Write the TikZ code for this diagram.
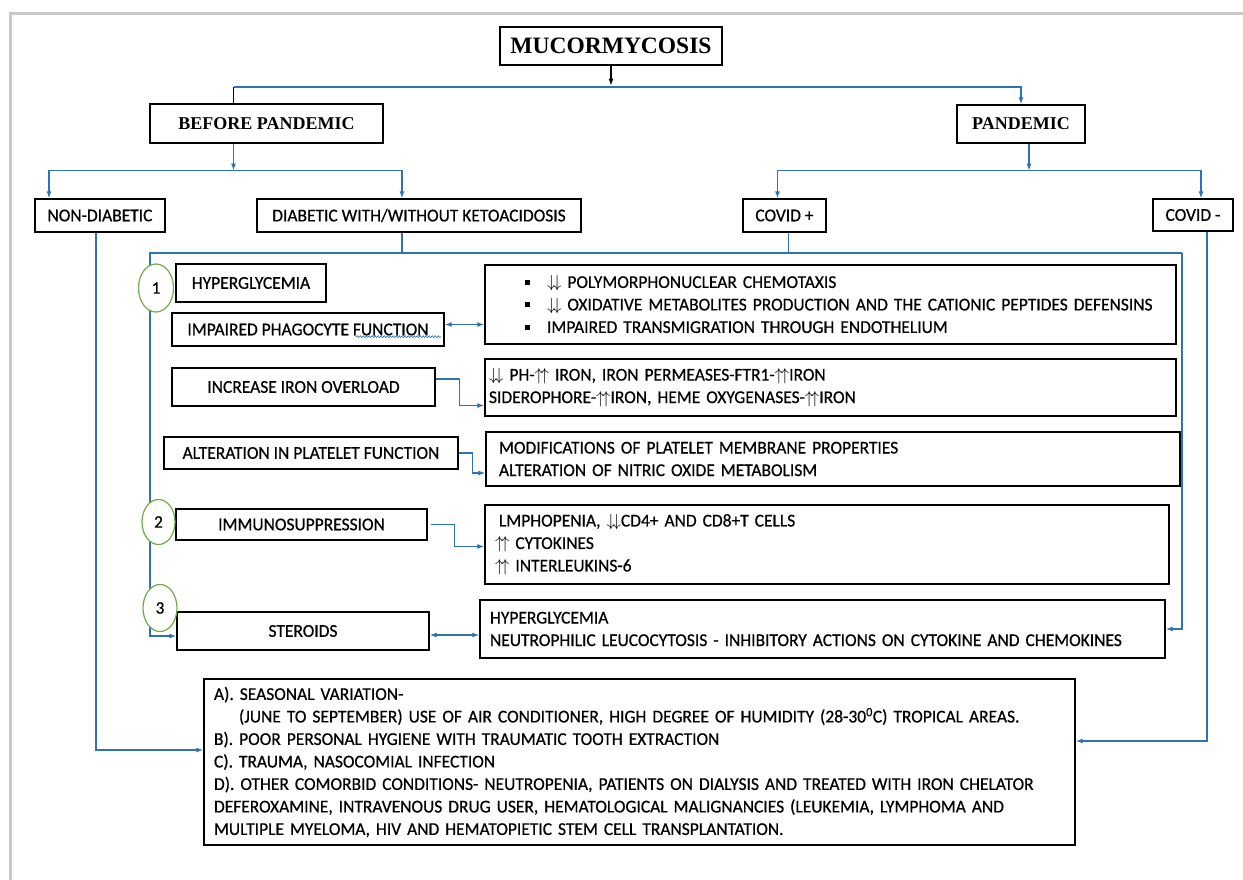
\documentclass[tikz,border=0pt]{standalone}
\usepackage{fontspec}
\setmainfont{Carlito}[FakeBold=0.6,FakeStretch=0.97]
\newfontfamily\titlefont{Liberation Serif}
\usetikzlibrary{shapes.geometric,arrows.meta,decorations.pathmorphing}
\definecolor{linkblue}{RGB}{46,116,181}
\definecolor{numgreen}{RGB}{112,173,71}
\definecolor{framegray}{RGB}{200,200,200}
\newcommand{\dndn}{$\downarrow\!\downarrow$}
\newcommand{\upup}{$\uparrow\!\uparrow$}
\newcommand{\sqbul}{\rule[3pt]{5pt}{5pt}}
\begin{document}
\begin{tikzpicture}[x=1pt,y=-1pt,
    box/.style={draw, line width=1.3pt, inner sep=0pt, font=\fontsize{18}{22.5}\selectfont},
    head/.style={box, font=\titlefont\bfseries\fontsize{18}{20}\selectfont},
    rbox/.style={box, align=left, inner xsep=10pt},
    num/.style={ellipse, draw=numgreen, fill=white, line width=1.2pt, inner sep=0pt, font=\fontsize{17.5}{20}\selectfont},
    wire/.style={draw=linkblue, line width=1.2pt},
    arr/.style={wire, -{Latex[length=7pt,width=5pt]}},
    dbl/.style={wire, {Latex[length=7pt,width=5pt]}-{Latex[length=7pt,width=5pt]}}]
  \useasboundingbox (0,0) rectangle (1243,880);
  \draw[framegray, line width=3pt] (10,880) -- (10,14) -- (1243,14);

  \node[head, minimum width=222pt, minimum height=38pt, font=\titlefont\bfseries\fontsize{23.5}{25}\selectfont] (mucor) at (611,46) {MUCORMYCOSIS};
  \node[head, minimum width=233pt, minimum height=39pt] (bp)  at (266.5,123.5) {BEFORE PANDEMIC};
  \node[head, minimum width=128pt, minimum height=38pt] (pan) at (1021,124) {PANDEMIC};

  \node[box, minimum width=130pt, minimum height=33pt] (nondia) at (100,215.5) {NON-DIABETIC};
  \node[box, minimum width=324pt, minimum height=33pt] (diab)   at (419,215.5) {DIABETIC WITH/WITHOUT KETOACIDOSIS};
  \node[box, minimum width=83pt,  minimum height=33pt] (covp)   at (784.5,215.5) {COVID +};
  \node[box, minimum width=80pt,  minimum height=32pt] (covm)   at (1193,215) {COVID -};

  \node[box, minimum width=150pt, minimum height=38pt] (hyper)  at (251,283) {HYPERGLYCEMIA};
  \node[box, minimum width=272pt, minimum height=33pt] (phago)  at (308,329.5) {IMPAIRED PHAGOCYTE FUNCTION};
  \node[box, minimum width=263pt, minimum height=38pt] (iron)   at (303.5,387) {INCREASE IRON OVERLOAD};
  \node[box, minimum width=294pt, minimum height=32pt] (plate)  at (311,453) {ALTERATION IN PLATELET FUNCTION};
  \node[box, minimum width=251pt, minimum height=31pt] (immuno) at (301.5,524.5) {IMMUNOSUPPRESSION};
  \node[box, minimum width=252pt, minimum height=38pt] (ster)   at (303,631) {STEROIDS};

  \node[rbox, text width=671pt, minimum height=79pt] (r1) at (830.5,304.5) {\hspace*{30pt}\sqbul\hspace{17pt}\dndn\ POLYMORPHONUCLEAR CHEMOTAXIS\\
    \hspace*{30pt}\sqbul\hspace{17pt}\dndn\ OXIDATIVE METABOLITES PRODUCTION AND THE CATIONIC PEPTIDES DEFENSINS\\
    \hspace*{30pt}\sqbul\hspace{17pt}IMPAIRED TRANSMIGRATION THROUGH ENDOTHELIUM};
  \node[rbox, inner xsep=4pt, text width=683pt, minimum height=57pt] (r2) at (830.5,387.5) {\dndn\ PH-\upup\ IRON, IRON PERMEASES-FTR1-\upup IRON\\
    SIDEROPHORE-\upup IRON, HEME OXYGENASES-\upup IRON};
  \node[rbox, inner xsep=13pt, text width=668pt, minimum height=54pt] (r3) at (833,459) {MODIFICATIONS OF PLATELET MEMBRANE PROPERTIES\\
    ALTERATION OF NITRIC OXIDE METABOLISM};
  \node[rbox, text width=664pt, minimum height=79pt] (r4) at (827,544.5) {\hspace*{4pt}LMPHOPENIA, \dndn CD4+ AND CD8+T CELLS\\
    \upup\ CYTOKINES\\
    \upup\ INTERLEUKINS-6};
  \node[rbox, text width=665pt, minimum height=58pt] (r5) at (822.5,629) {HYPERGLYCEMIA\\
    NEUTROPHILIC LEUCOCYTOSIS - INHIBITORY ACTIONS ON CYTOKINE AND CHEMOKINES};

  \node[rbox, text width=851pt, minimum height=166pt] (final) at (639.5,762) {A). SEASONAL VARIATION-\\
    \hspace*{25pt}(JUNE TO SEPTEMBER) USE OF AIR CONDITIONER, HIGH DEGREE OF HUMIDITY (28-30\textsuperscript{0}C) TROPICAL AREAS.\\
    B). POOR PERSONAL HYGIENE WITH TRAUMATIC TOOTH EXTRACTION\\
    C). TRAUMA, NASOCOMIAL INFECTION\\
    D). OTHER COMORBID CONDITIONS- NEUTROPENIA, PATIENTS ON DIALYSIS AND TREATED WITH IRON CHELATOR\\
    DEFEROXAMINE, INTRAVENOUS DRUG USER, HEMATOLOGICAL MALIGNANCIES (LEUKEMIA, LYMPHOMA AND\\
    MULTIPLE MYELOMA, HIV AND HEMATOPIETIC STEM CELL TRANSPLANTATION.};

  \coordinate (top) at (611,87);
  \coordinate (jl) at (150,253);
  \coordinate (jr) at (1182,253);
  \path ([xshift=-33pt]bp.south) ++(0,27) coordinate (bpfork);
  \path ([xshift=8pt]pan.south) ++(0,27) coordinate (panfork);

  \draw[line width=1.2pt, -{Latex[length=7pt,width=5pt]}] (mucor.south) -- ++(0,20);
  \draw[line width=1.2pt] ([xshift=-33pt]bp.north) -- ([xshift=-33pt]bp.north |- top);
  \draw[arr] ([xshift=-33pt]bp.north |- top) -| (pan.north);
  \draw[arr] ([xshift=-33pt]bp.south) -- (bpfork);
  \draw[arr] (bpfork) -| ([xshift=-51pt]nondia.north);
  \draw[arr] (bpfork) -| ([xshift=-17pt]diab.north);
  \draw[arr] ([xshift=8pt]pan.south) -- (panfork);
  \draw[arr] (panfork) -| ([xshift=-7pt]covp.north);
  \draw[arr] (panfork) -| ([xshift=8pt]covm.north);

  \draw[wire] ([xshift=-17pt]diab.south) -- ([xshift=-17pt]diab.south |- jl);
  \draw[wire] ([xshift=4pt]covp.south) -- ([xshift=4pt]covp.south |- jl);
  \draw[arr] (jr) -- (jl) |- ([yshift=-5pt]ster.west);
  \draw[arr] (jr) |- (r5.east);
  \draw[arr] ([xshift=-4pt]nondia.south) |- ([yshift=12pt]final.west);
  \draw[arr] ([xshift=14pt]covm.south) |- ([yshift=21pt]final.east);

  \draw[dbl] ([yshift=5pt]phago.east) -- ([yshift=5pt]phago.east -| r1.west);
  \draw[arr] ([yshift=8pt]iron.east) -- ++(24,0) |- ([yshift=-18pt]r2.west);
  \draw[arr] (plate.east) -- ++(14,0) |- ([yshift=-14pt]r3.west);
  \draw[arr] ([xshift=3pt]immuno.east) -- ++(24,0) |- ([yshift=-2pt]r4.west);
  \draw[dbl] ([yshift=-4pt]ster.east) -- ([yshift=-4pt]ster.east -| r5.west);
  \draw[linkblue, line width=0.6pt, decorate, decoration={snake, amplitude=1pt, segment length=3pt}] ([shift={(-4pt,10pt)}]phago.south east) -- ++(-85,0);

  \node[num, minimum width=35pt, minimum height=48pt] (n1) at (156,288) {1};
  \node[num, minimum width=33pt, minimum height=45pt] (n2) at (158.5,522) {2};
  \node[num, minimum width=34pt, minimum height=47pt] (n3) at (160,608) {3};
\end{tikzpicture}
\end{document}
